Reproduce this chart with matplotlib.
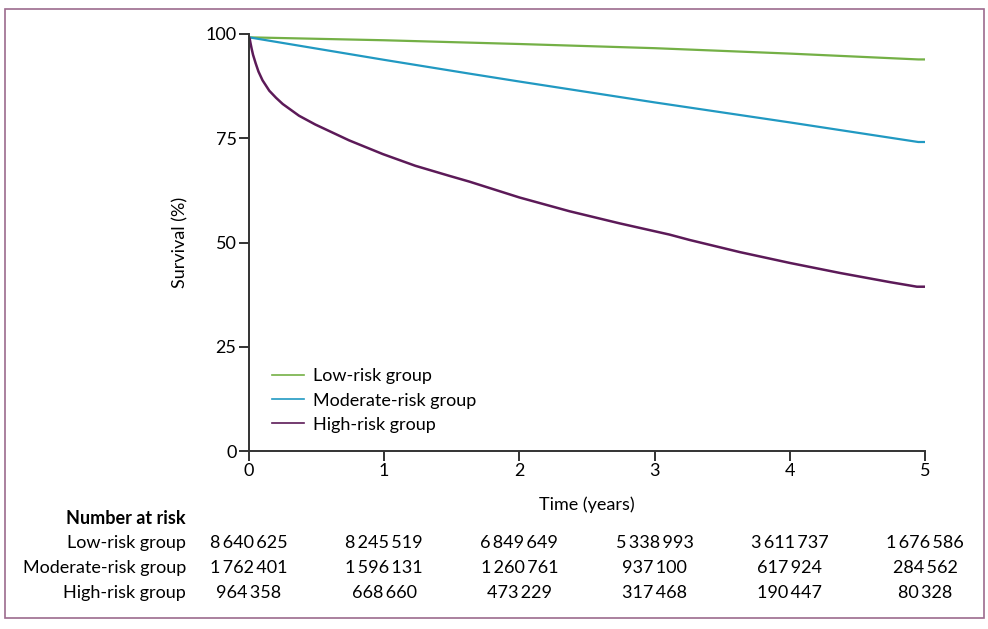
import matplotlib.pyplot as plt
import matplotlib.transforms as mtransforms
from matplotlib.patches import Rectangle

plt.rcParams['font.family'] = ['Lato', 'DejaVu Sans']
plt.rcParams['font.size'] = 13

# curves (years, survival %)
low_t = [0, 1, 2, 3, 4, 4.95, 5]
low_s = [99.2, 98.5, 97.6, 96.6, 95.3, 93.9, 93.9]

mod_t = [0, 1, 1.63, 2, 3, 4, 4.95, 5]
mod_s = [99.2, 93.8, 90.5, 88.6, 83.6, 78.8, 74.1, 74.1]

high_t = [0, 0.005, 0.01, 0.02, 0.03, 0.05, 0.07, 0.1, 0.15, 0.2, 0.25, 0.37, 0.49,
          0.74, 0.99, 1.23, 1.48, 1.63, 2.0, 2.37, 2.74, 3.11, 3.26, 3.63, 4.0,
          4.37, 4.74, 4.94, 5]
high_s = [99.2, 98.9, 98.0, 96.4, 95.0, 92.9, 91.0, 88.9, 86.4, 84.7, 83.2, 80.4, 78.3,
          74.5, 71.2, 68.4, 66.0, 64.6, 60.8, 57.5, 54.6, 51.9, 50.6, 47.7, 45.1,
          42.7, 40.5, 39.4, 39.4]

groups = ['Low-risk group', 'Moderate-risk group', 'High-risk group']
colors = ['#74b046', '#2199c2', '#5c1a58']

years = [0, 1, 2, 3, 4, 5]
at_risk = [
    ['8\u2009640\u2009625', '8\u2009245\u2009519', '6\u2009849\u2009649', '5\u2009338\u2009993', '3\u2009611\u2009737', '1\u2009676\u2009586'],
    ['1\u2009762\u2009401', '1\u2009596\u2009131', '1\u2009260\u2009761', '937\u2009100', '617\u2009924', '284\u2009562'],
    ['964\u2009358', '668\u2009660', '473\u2009229', '317\u2009468', '190\u2009447', '80\u2009328'],
]

fig = plt.figure(figsize=(9.88, 6.29), dpi=100)
ax = fig.add_axes([249 / 988, 1 - 451 / 629, 676 / 988, 417 / 629])

ax.plot(low_t, low_s, color=colors[0], lw=1.6, label=groups[0])
ax.plot(mod_t, mod_s, color=colors[1], lw=1.6, label=groups[1])
ax.plot(high_t, high_s, color=colors[2], lw=1.8, label=groups[2])

ax.set_xlim(0, 5)
ax.set_ylim(0, 100)
ax.set_xticks(years)
ax.set_yticks([0, 25, 50, 75, 100])
for s in ['top', 'right']:
    ax.spines[s].set_visible(False)
for s in ['left', 'bottom']:
    ax.spines[s].set_color('#333333')
    ax.spines[s].set_linewidth(1.4)
ax.tick_params(direction='out', length=7, width=1.4, color='#333333', labelsize=13, pad=2)
ax.set_xlabel('Time (years)', fontsize=13, labelpad=12)
ax.set_ylabel('Survival (%)', fontsize=13, labelpad=12)

leg = ax.legend(loc='lower left', bbox_to_anchor=(0.01, 0.005), frameon=False,
                fontsize=13, handlelength=1.75, handletextpad=0.5, labelspacing=0.45)
for h in leg.get_lines():
    h.set_linewidth(1.2)

# number at risk table
tr = mtransforms.blended_transform_factory(ax.transData, fig.transFigure)
fig.text(186 / 988, 1 - 518 / 629, 'Number at risk', ha='right', va='center',
         fontsize=13, fontweight='bold')
row_y = [543, 568, 593]
for i, g in enumerate(groups):
    fig.text(186 / 988, 1 - row_y[i] / 629, g, ha='right', va='center', fontsize=13)
    for j, yr in enumerate(years):
        ax.text(yr, 1 - row_y[i] / 629, at_risk[i][j], transform=tr,
                ha='center', va='center', fontsize=13)

fig.patches.append(Rectangle((5 / 988, 1 - 618 / 629), 979 / 988, 609 / 629,
                             transform=fig.transFigure, fill=False,
                             edgecolor='#9c6b8e', lw=1.2))

fig.savefig('out.png', dpi=100)
